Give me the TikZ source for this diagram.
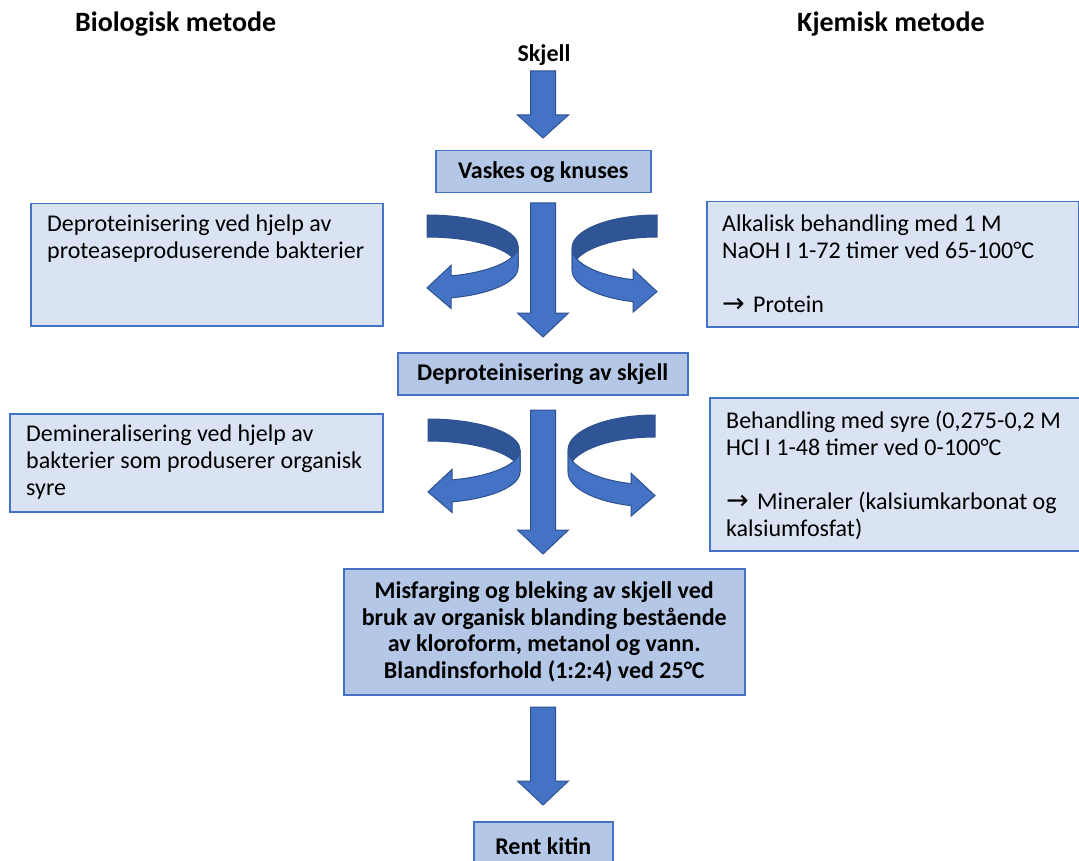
\documentclass[tikz,border=0pt]{standalone}
\usepackage{fontspec}
\setmainfont{Carlito}
\newfontfamily\arrowfont{DejaVu Sans}
\definecolor{stepfill}{HTML}{B4C7E7}
\definecolor{sidefill}{HTML}{DAE3F3}
\definecolor{boxline}{HTML}{4472C4}
\definecolor{arrowfill}{HTML}{4472C4}
\definecolor{arrowdark}{HTML}{2F5597}
\definecolor{arrowline}{HTML}{2F528F}

% the font's own word spacing inside ragged text blocks
\newcommand\plainspaces{\spaceskip=0pt\xspaceskip=0pt\relax}
% arrow sign used in the result lines
\newcommand\resultarrow{{\arrowfont\fontsize{27}{27}\selectfont →}\hspace{0.12em}}

\tikzset{
  stepbox/.style={draw=boxline, fill=stepfill, line width=1.5pt, inner sep=0pt,
    anchor=north west, align=center, font=\fontsize{24}{26.7}\selectfont\bfseries},
  sidebox/.style={draw=boxline, fill=sidefill, line width=1.5pt, inner sep=0pt, anchor=north west},
  sidetext/.style={anchor=base west, inner sep=0pt, text width=#1, align=left,
    font=\fontsize{24}{27}\selectfont},
  sidetext/.default=340pt,
  heading/.style={anchor=base west, inner sep=0pt, font=\fontsize{28}{32}\selectfont\bfseries},
  blockarrow/.style={fill=arrowfill, draw=arrowline, line width=1pt, line join=miter},
}

% straight block arrow pointing down: centre x, top y, head base y, tip y (rows counted downwards)
\newcommand\downblock[4]{%
  \path[blockarrow] (#1-12.5,-#2) -- (#1+12.5,-#2) -- (#1+12.5,-#3) -- (#1+25.5,-#3)
    -- (#1,-#4) -- (#1-25.5,-#3) -- (#1-12.5,-#3) -- cycle;}

% ribbon-like U-turn arrow: #1,#2 top end of the ribbon, #3 = 1 (turns back left) or -1 (turns back right),
% #4 depth of the bend, #5 half height of the bend
\newcommand\uturnarrow[5]{%
  \begin{scope}[shift={(#1,-#2)}, xscale=#3]
    \pgfmathsetmacro\ua{#4}\pgfmathsetmacro\ub{#5}\pgfmathsetmacro\uth{acos(24/\ua)}
    % inner face, seen from behind
    \path[fill=arrowdark, draw=arrowline, line width=1pt]
      (0,0) arc[start angle=90, end angle=0, x radius=\ua pt, y radius=\ub pt]
      -- ++(0,-22) arc[start angle=0, end angle=90, x radius=\ua pt, y radius=\ub pt] -- cycle;
    % outer face with the head
    \path[blockarrow]
      (\ua,-\ub) arc[start angle=0, end angle=-\uth, x radius=\ua pt, y radius=\ub pt]
      -- ++(0,10.5) -- ++(-24,-22.5) -- ++(24,-20.5) -- ++(0,10.5)
      arc[start angle=-\uth, end angle=0, x radius=\ua pt, y radius=\ub pt] -- cycle;
  \end{scope}}

\begin{document}
\begin{tikzpicture}[x=1pt, y=1pt]
\useasboundingbox (0,0) rectangle (1079,-861);
\clip (0,0) rectangle (1079,-861);

% column headings
\node[heading] (bio) at (75,-32) {Biologisk metode};
\node[heading] (kjem) at (797,-32) {Kjemisk metode};

% main process column
\node[anchor=base, inner sep=0pt, font=\fontsize{24}{26.7}\selectfont\bfseries] (skjell) at (544,-61.5) {Skjell};
\node[stepbox, minimum width=215pt, minimum height=42pt] (vask) at (435,-150) {Vaskes og knuses};
\node[stepbox, minimum width=290pt, minimum height=42pt] (deprot) at (397,-352) {Deproteinisering av skjell};
\node[stepbox, minimum width=401pt, minimum height=126pt] (bleking) at (343,-568)
  {Misfarging og bleking av skjell ved\\bruk av organisk blanding bestående\\av kloroform, metanol og vann.\\Blandinsforhold (1:2:4) ved 25°C};
\node[stepbox, minimum width=139pt, minimum height=49pt] (kitin) at (473,-821) {Rent kitin};

% biological method
\node[sidebox, minimum width=352pt, minimum height=122pt] (bioA) at (30,-203) {};
\node[sidetext] (bioAtxt) at (47,-232) {\plainspaces Deproteinisering ved hjelp av\\proteaseproduserende bakterier};
\node[sidebox, minimum width=373pt, minimum height=98pt] (bioB) at (9,-413) {};
\node[sidetext=350pt] (bioBtxt) at (26,-441.7) {\plainspaces Demineralisering ved hjelp av\\bakterier som produserer organisk\\syre};

% chemical method
\node[sidebox, minimum width=372pt, minimum height=125pt] (kjemA) at (706,-201) {};
\node[sidetext] (kjemAtxt) at (722,-232)
  {\plainspaces Alkalisk behandling med 1 M\\NaOH I 1-72 timer ved 65-100°C\\[27pt]\resultarrow{} Protein};
\node[sidebox, minimum width=380pt, minimum height=153pt] (kjemB) at (709,-397) {};
\node[sidetext=350pt] (kjemBtxt) at (726,-428.3)
  {\plainspaces Behandling med syre (0,275-0,2 M\\HCl I 1-48 timer ved 0-100°C\\[27pt]\resultarrow{} Mineraler (kalsiumkarbonat og\\kalsiumfosfat)};

% straight flow arrows
\downblock{543}{71}{115}{138}
\downblock{543}{203}{313}{337}
\downblock{543}{410}{530}{554}
\downblock{543}{707}{781}{805}

% side branches
\uturnarrow{427}{215}{1}{91}{31}
\uturnarrow{657}{215}{-1}{85}{33}
\uturnarrow{428}{419}{1}{92}{31}
\uturnarrow{655}{415}{-1}{87}{35}
\end{tikzpicture}
\end{document}
